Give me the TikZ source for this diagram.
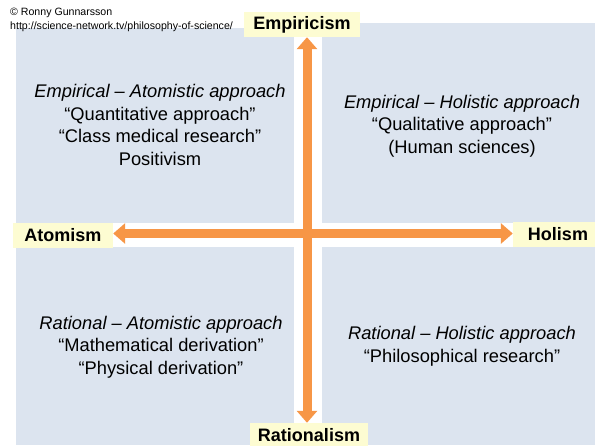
\documentclass[tikz,border=0pt]{standalone}
\usepackage{fontspec}
\setmainfont{Liberation Sans}
\usetikzlibrary{arrows.meta}
\definecolor{panelblue}{HTML}{DCE4EF}
\definecolor{arroworange}{HTML}{F79646}
\definecolor{labelyellow}{HTML}{FDFCD2}
\tikzset{
  panel/.style={fill=panelblue, draw=none},
  axislabel/.style={fill=labelyellow, draw=none, font=\fontsize{18}{20}\selectfont\bfseries, inner sep=0pt, minimum height=25pt},
  body/.style={align=center, font=\fontsize{18.3}{22.7}\selectfont, inner sep=0pt},
  axisarrow/.style={draw=arroworange, line width=9pt, -{Triangle[width=20pt,length=12pt]}, shorten >=0pt},
  credit/.style={anchor=west, font=\fontsize{10.6}{12}\selectfont, inner sep=0pt}
}
\begin{document}
\begin{tikzpicture}[x=1pt,y=-1pt]
\useasboundingbox (0,0) rectangle (595,445);
\fill[white] (0,0) rectangle (595,445);
% panels
\fill[panel] (16,28) rectangle (294,223);
\fill[panel] (322,23) rectangle (595,223);
\fill[panel] (16,247) rectangle (294,445);
\fill[panel] (322,247) rectangle (595,445);
% credits
\node[credit] (c1) at (10,13) {© Ronny Gunnarsson};
\node[credit] (c2) at (10,26.5) {http://science-network.tv/philosophy-of-science/};
% axis labels
\node[axislabel, minimum width=116pt] (emp) at (302,24.5) {Empiricism};
\node[axislabel, minimum width=118pt] (rat) at (309,435.5) {Rationalism};
\node[axislabel, minimum width=100pt] (atom) at (63,235) {Atomism};
\node[axislabel, minimum width=90pt] (hol) at (558,234) {Holism};
% quadrant texts
\node[body] (tl) at (160,125) {\itshape Empirical -- Atomistic approach\\“Quantitative approach”\\“Class medical research”\\Positivism};
\node[body] (tr) at (462,126) {\itshape Empirical -- Holistic approach\\“Qualitative approach”\\(Human sciences)};
\node[body] (bl) at (161,347) {\itshape Rational -- Atomistic approach\\“Mathematical derivation”\\“Physical derivation”};
\node[body] (br) at (462,346) {\itshape Rational -- Holistic approach\\“Philosophical research”};
% arrows
\coordinate (cx) at (307,233.5);
\draw[axisarrow] (cx) -- (emp.south -| cx);
\draw[axisarrow] (cx) -- (rat.north -| cx);
\draw[axisarrow] (cx) -- (atom.east |- cx);
\draw[axisarrow] (cx) -- (hol.west |- cx);
\end{tikzpicture}
\end{document}
